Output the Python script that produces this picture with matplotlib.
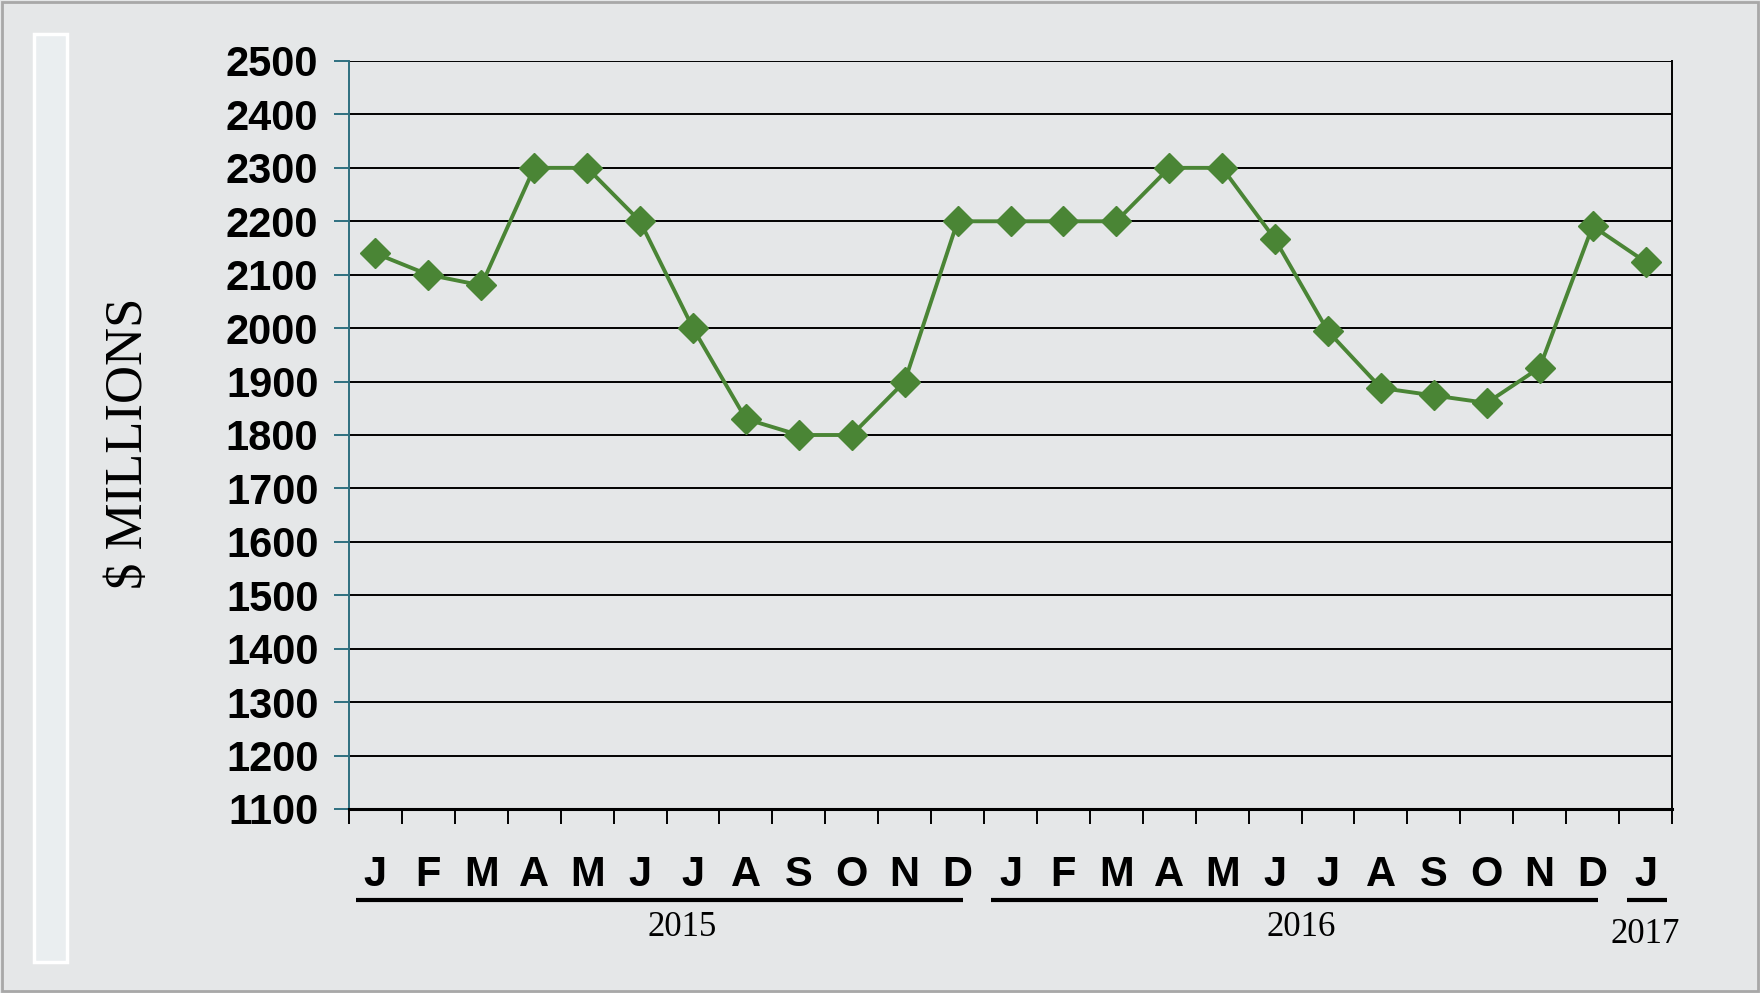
import matplotlib
matplotlib.use("Agg")
import matplotlib.pyplot as plt
import matplotlib.transforms as mtransforms
from matplotlib.patches import Rectangle

# ---- data ----
months = ["J", "F", "M", "A", "M", "J", "J", "A", "S", "O", "N", "D",
          "J", "F", "M", "A", "M", "J", "J", "A", "S", "O", "N", "D",
          "J"]
values = [2140, 2100, 2080, 2300, 2300, 2200, 2000, 1830, 1800, 1800, 1900, 2200,
          2200, 2200, 2200, 2300, 2300, 2166, 1994, 1888, 1874, 1860, 1926, 2191,
          2124]
years = ["2015", "2016", "2017"]
year_first = [0, 12, 24]
year_last = [11, 23, 24]
y_ticks = list(range(1100, 2501, 100))

BG = "#e5e7e8"
GREEN = "#4a8535"
TEAL = "#2f6f80"

fig = plt.figure(figsize=(17.6, 9.93), dpi=100, facecolor=BG)
ax = fig.add_axes([349/1760, 1-809/993, (1672-349)/1760, (809-61)/993])
ax.set_facecolor("none")

x = list(range(len(values)))
ax.plot(x, values, color=GREEN, lw=2.8, marker="D", ms=15, mfc=GREEN, mec=GREEN, zorder=5)

ax.set_xlim(-0.5, len(values) - 0.5)
ax.set_ylim(1100, 2500)

# grid
ax.set_yticks(y_ticks)
ax.set_yticklabels([str(v) for v in y_ticks], fontsize=30, fontweight="bold",
                   family=["Liberation Sans", "DejaVu Sans"])
ax.yaxis.grid(True, color="black", lw=1.4)
ax.set_axisbelow(True)
ax.tick_params(axis="y", direction="out", length=11, width=1.4, color=TEAL, pad=11)

ax.set_xticks([i - 0.5 for i in range(len(values) + 1)])
ax.set_xticklabels([])
ax.tick_params(axis="x", direction="out", length=11, width=1.4, color="black")

ax.spines["top"].set_visible(False)
ax.spines["left"].set_color(TEAL)
ax.spines["left"].set_linewidth(1.4)
ax.spines["bottom"].set_color("black")
ax.spines["bottom"].set_linewidth(2.2)
ax.spines["right"].set_color("black")
ax.spines["right"].set_linewidth(1.4)

trans = mtransforms.blended_transform_factory(ax.transData, ax.transAxes)
for i, m in enumerate(months):
    ax.text(i, -0.088, m, transform=trans, ha="center", va="center",
            fontsize=30, fontweight="bold", family=["Liberation Sans", "DejaVu Sans"])

for yr, a, b in zip(years, year_first, year_last):
    if a == b:
        x0, x1, ylab = a - 0.35, b + 0.4, -0.168
    else:
        x0, x1, ylab = a - 0.37, b + 0.1, -0.158
    ax.plot([x0, x1], [-0.1217, -0.1217], transform=trans, color="black", lw=3,
            clip_on=False, solid_capstyle="butt")
    ax.text((a + b) / 2 + (0.3 if a == 0 else 0), ylab, yr, transform=trans,
            ha="center", va="center", fontsize=25,
            family=["Liberation Serif", "DejaVu Serif"])

fig.text(129/1760, 1-443/993, "$ MILLIONS", rotation=90, ha="center", va="center",
         fontsize=38, family=["Liberation Serif", "DejaVu Serif"])

# decorative left bar and outer frame
fig.patches.append(Rectangle((34/1760, 1-962/993), 33/1760, (962-34)/993,
                             transform=fig.transFigure, facecolor="#eaeef0",
                             edgecolor="white", lw=2.5, zorder=0))
fig.patches.append(Rectangle((0.001, 0.002), 0.998, 0.996, transform=fig.transFigure,
                             facecolor="none", edgecolor="#a8a8a8", lw=2, zorder=0))

fig.savefig("out.png", dpi=100, facecolor=BG)
